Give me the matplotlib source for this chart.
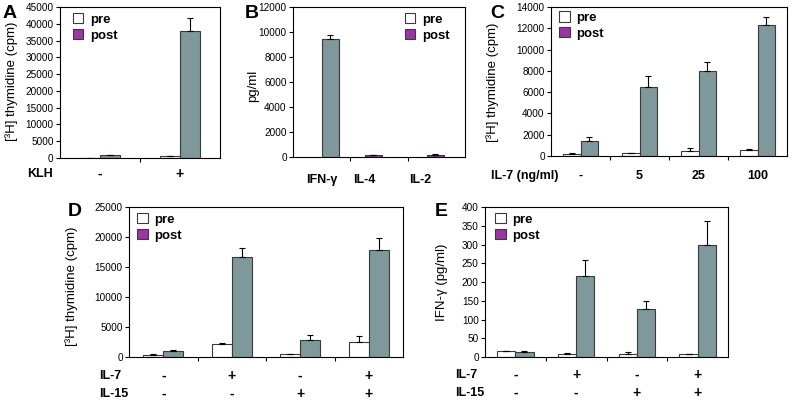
import matplotlib
matplotlib.use('Agg')
import matplotlib.pyplot as plt
import matplotlib.transforms as mtransforms
from matplotlib.patches import Patch
import numpy as np

plt.rcParams['font.family'] = ['Liberation Sans', 'DejaVu Sans']

GREY = '#7f989b'
PURPLE = '#9f32a8'
EDGE = '#3a3a3a'

# A: KLH
a_groups = ['-', '+']
a_pre = [100, 550]
a_pre_err = [0, 80]
a_post = [750, 37800]
a_post_err = [80, 4000]

# B: cytokines (post only)
b_groups = ['IFN-γ', 'IL-4', 'IL-2']
b_post = [9450, 130, 180]
b_post_err = [350, 0, 40]
b_colors = [GREY, PURPLE, PURPLE]

# C: IL-7 dose
c_groups = ['-', '5', '25', '100']
c_pre = [190, 250, 470, 530]
c_pre_err = [90, 0, 280, 100]
c_post = [1420, 6500, 8030, 12330]
c_post_err = [400, 1000, 780, 750]

# D: IL-7 / IL-15 proliferation
d_il7 = ['-', '+', '-', '+']
d_il15 = ['-', '-', '+', '+']
d_pre = [400, 2230, 450, 2570]
d_pre_err = [100, 120, 80, 900]
d_post = [1060, 16630, 2900, 17860]
d_post_err = [170, 1500, 700, 1950]

# E: IFN-gamma
e_pre = [15, 9, 7, 7]
e_pre_err = [0, 1, 6, 1]
e_post = [13, 216, 127, 298]
e_post_err = [2, 43, 23, 65]

W, H = 793, 405
fig = plt.figure(figsize=(W / 100, H / 100), dpi=100)


def px_axes(l, r, t, b):
    return fig.add_axes([l / W, 1 - b / H, (r - l) / W, (b - t) / H])


def style(ax, n, ymax, ystep):
    ax.set_xlim(-0.5, n - 0.5)
    ax.set_ylim(0, ymax)
    ax.set_yticks(np.arange(0, ymax + 1, ystep))
    ax.set_xticks([])
    ax.set_xticks(np.arange(n - 1) + 0.5, minor=True)
    ax.tick_params(axis='y', length=3, width=0.8, labelsize=7.2, pad=1.5)
    ax.tick_params(axis='x', which='minor', length=3, width=0.8)
    for s in ax.spines.values():
        s.set_linewidth(0.8)


def pairs(ax, pre, pre_err, post, post_err, w):
    x = np.arange(len(pre))
    kw = dict(edgecolor=EDGE, linewidth=0.8, zorder=2)
    ax.bar(x - w / 2, pre, w, color='white', **kw)
    ax.bar(x + w / 2, post, w, color=GREY, **kw)
    ax.errorbar(x - w / 2, pre, yerr=[np.zeros(len(pre)), pre_err], fmt='none',
                ecolor='black', elinewidth=0.8, capsize=2.5, capthick=0.8, zorder=3)
    ax.errorbar(x + w / 2, post, yerr=[np.zeros(len(post)), post_err], fmt='none',
                ecolor='black', elinewidth=0.8, capsize=2.5, capthick=0.8, zorder=3)


def legend(ax, x, y):
    handles = [Patch(facecolor='white', edgecolor=EDGE, linewidth=0.8),
               Patch(facecolor=PURPLE, edgecolor=EDGE, linewidth=0.8)]
    ax.legend(handles, ['pre', 'post'], loc='upper left', bbox_to_anchor=(x, y),
              frameon=False, prop=dict(weight='bold', size=9.5), handlelength=0.8,
              handleheight=0.8, handletextpad=0.5, labelspacing=0.25,
              borderpad=0, borderaxespad=0)


def row(ax, ypx, labels, xs=None, size=9):
    tr = mtransforms.blended_transform_factory(ax.transData, fig.transFigure)
    if xs is None:
        xs = range(len(labels))
    for x, lab in zip(xs, labels):
        ax.text(x, 1 - ypx / H, lab, transform=tr, ha='center', va='center',
                fontsize=size, fontweight='bold')


def ftext(xpx, ypx, s, **kw):
    fig.text(xpx / W, 1 - ypx / H, s, **kw)


ylab = '[³H] thymidine (cpm)'

# ---- A
ax = px_axes(60, 220, 7, 158)
style(ax, 2, 45000, 5000)
pairs(ax, a_pre, a_pre_err, a_post, a_post_err, 0.25)
legend(ax, 0.08, 0.96)
row(ax, 174, a_groups, size=10)
ftext(27, 174, 'KLH', fontsize=9, fontweight='bold', va='center')
ftext(12, 81, ylab, rotation=90, fontsize=9.5, ha='center', va='center')
ftext(3, 13, 'A', fontsize=14, fontweight='bold', va='center')

# ---- B
ax = px_axes(293, 465, 7, 157)
style(ax, 3, 12000, 2000)
bx = np.arange(3) + np.array([0.15, -0.1, -0.02])
ax.bar(bx, b_post, 0.3, color=b_colors, edgecolor=EDGE, linewidth=0.8, zorder=2)
ax.errorbar(bx, b_post, yerr=[np.zeros(3), b_post_err], fmt='none', ecolor='black',
            elinewidth=0.8, capsize=2.5, capthick=0.8, zorder=3)
legend(ax, 0.65, 0.96)
row(ax, 180, b_groups, xs=np.arange(3) + np.array([0.0, -0.26, -0.28]))
ftext(253, 86, 'pg/ml', rotation=90, fontsize=9.5, ha='center', va='center')
ftext(245, 14, 'B', fontsize=14, fontweight='bold', va='center')

# ---- C
ax = px_axes(551, 787, 7, 156)
style(ax, 4, 14000, 2000)
pairs(ax, c_pre, c_pre_err, c_post, c_post_err, 0.29)
legend(ax, 0.034, 0.97)
row(ax, 176, c_groups)
ftext(491, 176, 'IL-7 (ng/ml)', fontsize=9, fontweight='bold', va='center')
ftext(493, 82, ylab, rotation=90, fontsize=9.5, ha='center', va='center')
ftext(490, 13, 'C', fontsize=14, fontweight='bold', va='center')

# ---- D
ax = px_axes(129, 403, 207, 357)
style(ax, 4, 25000, 5000)
pairs(ax, d_pre, d_pre_err, d_post, d_post_err, 0.29)
legend(ax, 0.029, 0.96)
row(ax, 376, d_il7, size=10)
row(ax, 394, d_il15, size=10)
ftext(99, 376, 'IL-7', fontsize=9, fontweight='bold', va='center')
ftext(99, 394, 'IL-15', fontsize=9, fontweight='bold', va='center')
ftext(72, 286, ylab, rotation=90, fontsize=9.5, ha='center', va='center')
ftext(68, 211, 'D', fontsize=14, fontweight='bold', va='center')

# ---- E
ax = px_axes(485, 728, 207, 357)
style(ax, 4, 400, 50)
pairs(ax, e_pre, e_pre_err, e_post, e_post_err, 0.3)
legend(ax, 0.041, 0.96)
row(ax, 375, d_il7, size=10)
row(ax, 393, d_il15, size=10)
ftext(455, 375, 'IL-7', fontsize=9, fontweight='bold', va='center')
ftext(455, 393, 'IL-15', fontsize=9, fontweight='bold', va='center')
ftext(442, 282, 'IFN-γ (pg/ml)', rotation=90, fontsize=9.5, ha='center', va='center')
ftext(435, 212, 'E', fontsize=14, fontweight='bold', va='center')

fig.savefig('out.png', dpi=100)
